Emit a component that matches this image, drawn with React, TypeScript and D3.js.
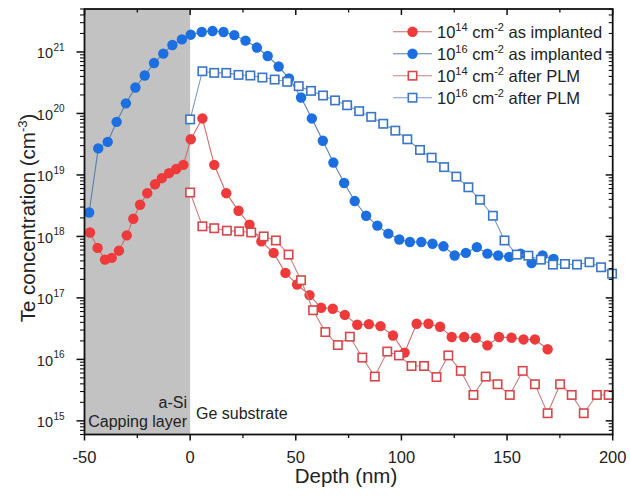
import React from 'react';
import { scaleLinear, scaleLog, line } from 'd3';

// 10^16 cm^-2 as implanted
const depthHighImpl = [-47.8, -43.5, -39, -34.8, -30.4, -25.9, -21.5, -17.1, -12.7, -8.4, -3.9, 0.3, 5.5, 10.6, 15.8, 20.9, 26.2, 31.6, 36.7, 41.9, 46.8, 52.5, 57.6, 62.8, 67.8, 72.9, 77.9, 83.3, 88.6, 93.8, 99, 104, 109.4, 114.7, 119.9, 125.2, 130.5, 135.7, 140.7, 145.8, 151, 156.4, 161.6, 166.8, 172];
const concHighImpl = [2.45e18, 2.7e19, 3.45e19, 7.3e19, 1.46e20, 2.64e20, 4.14e20, 6.6e20, 9.4e20, 1.3e21, 1.6e21, 1.91e21, 2.11e21, 2.19e21, 2.11e21, 1.88e21, 1.53e21, 1.18e21, 8.6e20, 5.8e20, 3.7e20, 1.82e20, 8.3e19, 3.6e19, 1.59e19, 7.4e18, 3.76e18, 2.17e18, 1.5e18, 1.11e18, 8.9e17, 8.1e17, 8.1e17, 7.6e17, 6.9e17, 4.9e17, 5.4e17, 6.7e17, 5.25e17, 4.9e17, 4.65e17, 5.25e17, 3.7e17, 4.9e17, 4.3e17];

// 10^14 cm^-2 as implanted
const depthLowImpl = [-47.4, -43.8, -40.3, -37.1, -33.7, -30, -26.9, -23.7, -20.3, -16.6, -13.4, -10, -6.6, -3.2, 0.3, 5.8, 11.4, 17.1, 22.9, 28.1, 33.7, 39.5, 45.1, 50.6, 56.5, 62, 67.5, 73.2, 79.1, 84.6, 90.1, 96, 101.5, 107.2, 112.8, 118.3, 123.8, 129.7, 135.2, 140.7, 146.2, 152.1, 157.8, 163.2, 169.2];
const concLowImpl = [1.16e18, 6.5e17, 4.2e17, 4.47e17, 5.86e17, 1.04e18, 1.94e18, 3.27e18, 5.05e18, 7.06e18, 8.85e18, 1.07e19, 1.25e19, 1.46e19, 3.8e19, 8.3e19, 1.46e19, 5.05e18, 2.61e18, 1.55e18, 8.3e17, 5.4e17, 2.55e17, 1.65e17, 1.11e17, 6.9e16, 6.65e16, 5.3e16, 3.66e16, 3.75e16, 3.47e16, 2.45e16, 1.29e16, 3.8e16, 3.8e16, 3.4e16, 2.31e16, 2.31e16, 2.25e16, 1.69e16, 2.31e16, 2.25e16, 2.11e16, 2.11e16, 1.46e16];

// 10^16 cm^-2 after PLM
const depthHighPlm = [0, 5.8, 11.4, 17.1, 22.9, 28.5, 34.2, 40, 45.9, 51.4, 57.2, 62.9, 68.6, 74.3, 80, 85.7, 91.4, 97.1, 102.8, 108.8, 114.3, 120.2, 126, 131.7, 137.2, 143.3, 148.8, 154.6, 160.1, 166, 171.7, 177.4, 183.1, 189, 194.5, 199.7];
const concHighPlm = [8.0e19, 4.86e20, 4.57e20, 4.57e20, 4.24e20, 4.14e20, 3.84e20, 3.56e20, 3.27e20, 2.78e20, 2.33e20, 1.96e20, 1.63e20, 1.36e20, 1.09e20, 8.8e19, 6.8e19, 5.25e19, 3.8e19, 2.55e19, 1.91e19, 1.34e19, 9.4e18, 6.3e18, 3.95e18, 2.17e18, 8.6e17, 5.06e17, 4.86e17, 4.19e17, 3.48e17, 3.56e17, 3.48e17, 3.8e17, 3.15e17, 2.48e17];

// 10^14 cm^-2 after PLM
const depthLowPlm = [0, 5.8, 11.4, 17.4, 23.2, 28.9, 34.8, 40.6, 46.6, 52.5, 58.2, 64, 69.9, 75.6, 81.5, 87.4, 93.3, 98.8, 104.8, 110.7, 116.6, 122.2, 128.1, 134.1, 139.9, 145.5, 151.3, 157.4, 163.2, 169.2, 175.1, 180.6, 186.3, 192.5, 198.1];
const concLowPlm = [5.18e18, 1.46e18, 1.36e18, 1.24e18, 1.21e18, 1.16e18, 1.0e18, 8.6e17, 5.06e17, 1.94e17, 6.3e16, 2.78e16, 1.71e16, 2.34e16, 1.07e16, 5.25e15, 1.34e16, 1.16e16, 7.8e15, 7.8e15, 5.16e15, 1.16e16, 6.5e15, 2.64e15, 5.25e15, 3.94e15, 2.64e15, 6.5e15, 3.94e15, 1.33e15, 3.94e15, 2.64e15, 1.33e15, 2.64e15, 2.64e15];

const xTicks = [-50, 0, 50, 100, 150, 200];
const xMinorTicks = [-25, 25, 75, 125, 175];
const yExponents = [15, 16, 17, 18, 19, 20, 21];

const FONT = '"Liberation Sans", Arial, sans-serif';
const RED = '#ee3a3a';
const BLUE = '#1b6fe0';

export default function App() {
  const W = 630, H = 504;
  const left = 84.5, right = 612.7, top = 9, bottom = 434.5;

  const x = scaleLinear().domain([-50, 200]).range([left, right]);
  const y = scaleLog().domain([6e14, 5e21]).range([bottom, top]);

  const series = [
    { name: 'as implanted', exp: '14', d: depthLowImpl, c: concLowImpl, shape: 'circle', color: RED, lineColor: '#cf6b6b' },
    { name: 'as implanted', exp: '16', d: depthHighImpl, c: concHighImpl, shape: 'circle', color: BLUE, lineColor: '#5a7fae' },
    { name: 'after PLM', exp: '14', d: depthLowPlm, c: concLowPlm, shape: 'square', color: '#d4474b', lineColor: '#c98080' },
    { name: 'after PLM', exp: '16', d: depthHighPlm, c: concHighPlm, shape: 'square', color: '#3a76c4', lineColor: '#7b97c4' },
  ];

  const minorY: number[] = [];
  for (let e = 14; e <= 21; e++) {
    for (let k = 2; k <= 9; k++) {
      const v = k * Math.pow(10, e);
      if (v >= 6e14 && v <= 5e21) minorY.push(v);
    }
  }

  const mark = (s, px, py, key) =>
    s.shape === 'circle' ? (
      <circle key={key} cx={px} cy={py} r={5.2} fill={s.color} />
    ) : (
      <rect key={key} x={px - 4.2} y={py - 4.2} width={8.4} height={8.4} fill="#fff" stroke={s.color} strokeWidth={1.6} />
    );

  return (
    <svg width={W} height={H} style={{ position: 'absolute', left: 0, top: 0, background: '#fff' }} fontFamily={FONT}>
      {/* capping layer region */}
      <rect x={x(-50)} y={top} width={x(0) - x(-50)} height={bottom - top} fill="#c2c2c2" />
      <text x={187} y={408} textAnchor="end" fontSize={16} fill="#222">a-Si</text>
      <text x={187} y={427} textAnchor="end" fontSize={16} fill="#222">Capping layer</text>
      <text x={196} y={418.5} fontSize={16} fill="#222">Ge substrate</text>

      {/* series */}
      {series.map((s, i) => {
        const pts = s.d.map((d, j) => [x(d), y(s.c[j])]);
        const path = line()(pts);
        return (
          <g key={i}>
            <path d={path} fill="none" stroke={s.lineColor} strokeWidth={1.1} />
            {pts.map((p, j) => mark(s, p[0], p[1], j))}
          </g>
        );
      })}

      {/* frame */}
      <rect x={left} y={top} width={right - left} height={bottom - top} fill="none" stroke="#111" strokeWidth={1.8} />

      {/* x ticks */}
      {xTicks.map(t => (
        <g key={'x' + t}>
          <line x1={x(t)} x2={x(t)} y1={bottom} y2={bottom + 6} stroke="#111" strokeWidth={1.5} />
          <line x1={x(t)} x2={x(t)} y1={top} y2={top + 6} stroke="#111" strokeWidth={1.5} />
          <text x={x(t)} y={463} textAnchor="middle" fontSize={16.5} fill="#222">{t}</text>
        </g>
      ))}
      {xMinorTicks.map(t => (
        <g key={'xm' + t}>
          <line x1={x(t)} x2={x(t)} y1={bottom} y2={bottom + 3.5} stroke="#111" strokeWidth={1.3} />
          <line x1={x(t)} x2={x(t)} y1={top} y2={top + 3.5} stroke="#111" strokeWidth={1.3} />
        </g>
      ))}

      {/* y ticks */}
      {yExponents.map(e => {
        const py = y(Math.pow(10, e));
        return (
          <g key={'y' + e}>
            <line x1={left - 8} x2={left} y1={py} y2={py} stroke="#111" strokeWidth={1.5} />
            <line x1={right} x2={right - 7} y1={py} y2={py} stroke="#111" strokeWidth={1.5} />
            <text x={53} y={py + 6.5} textAnchor="end" fontSize={14.5} fill="#222">10</text>
            <text x={53.5} y={py - 1} fontSize={10} fill="#222">{e}</text>
          </g>
        );
      })}
      {minorY.map((v, i) => (
        <g key={'ym' + i}>
          <line x1={left - 4.5} x2={left} y1={y(v)} y2={y(v)} stroke="#111" strokeWidth={1.1} />
          <line x1={right} x2={right - 4} y1={y(v)} y2={y(v)} stroke="#111" strokeWidth={1.1} />
        </g>
      ))}

      {/* axis titles */}
      <text x={346} y={483} textAnchor="middle" fontSize={20.5} fill="#222">Depth (nm)</text>
      <text transform="translate(35,218) rotate(-90)" textAnchor="middle" fontSize={20.5} fill="#222">
        Te concentration (cm<tspan fontSize={13} dy={-8}>-3</tspan><tspan dy={8}>)</tspan>
      </text>

      {/* legend */}
      {series.map((s, i) => {
        const cy = 31.7 + i * 22;
        return (
          <g key={'lg' + i}>
            <line x1={393} x2={432} y1={cy} y2={cy} stroke={s.lineColor} strokeWidth={1.1} />
            {mark(s, 412.5, cy, 'm')}
            <text x={437} y={cy + 5.8} fontSize={16.5} fill="#222">
              10<tspan fontSize={11} dy={-7}>{s.exp}</tspan>
              <tspan dy={7}> cm</tspan><tspan fontSize={11} dy={-7}>-2</tspan>
              <tspan dy={7}> {s.name}</tspan>
            </text>
          </g>
        );
      })}
    </svg>
  );
}
